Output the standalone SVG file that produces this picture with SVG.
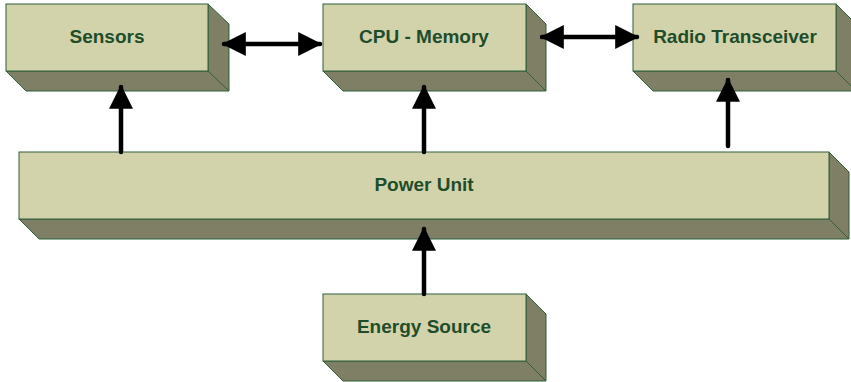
<svg xmlns="http://www.w3.org/2000/svg" width="851" height="382" viewBox="0 0 851 382">
<style>
.front{fill:#D3D3AB;stroke:#2E5E3A;stroke-width:1}
.side{fill:#7F7F66;stroke:#2E5E3A;stroke-width:1;stroke-linejoin:round}
.lbl{font-family:"Liberation Sans",Arial,sans-serif;font-weight:bold;font-size:19px;fill:#1E4D2B;text-anchor:middle}
.conn{stroke:#000;stroke-width:4.5;fill:none;stroke-linecap:round}
</style>
<defs>
<marker id="ah" markerUnits="userSpaceOnUse" markerWidth="24" markerHeight="24" viewBox="0 0 22 22" refX="20" refY="11" orient="auto-start-reverse">
<path d="M0,0 L22,11 L0,22 Z" fill="#000"/>
</marker>
</defs>
<rect width="851" height="382" fill="#fff"/>
<g id="sensors">
<polygon class="side" points="208,4 229,24 229,91 26,91 6,71 208,71"/>
<line x1="208" y1="71" x2="229" y2="91" stroke="#2E5E3A"/>
<rect class="front" x="6" y="4" width="202" height="67"/>
<text class="lbl" x="107" y="43">Sensors</text>
</g>
<g id="cpu">
<polygon class="side" points="526,4 546,24 546,91 343,91 323,71 526,71"/>
<line x1="526" y1="71" x2="546" y2="91" stroke="#2E5E3A"/>
<rect class="front" x="323" y="4" width="203" height="67"/>
<text class="lbl" x="424" y="43">CPU - Memory</text>
</g>
<g id="radio">
<polygon class="side" points="836,4 856,24 856,91 653,91 633,71 836,71"/>
<line x1="836" y1="71" x2="856" y2="91" stroke="#2E5E3A"/>
<rect class="front" x="633" y="4" width="203" height="67"/>
<text class="lbl" x="735" y="43">Radio Transceiver</text>
</g>
<g id="power">
<polygon class="side" points="829,152 849,172 849,239 39,239 19,219 829,219"/>
<line x1="829" y1="219" x2="849" y2="239" stroke="#2E5E3A"/>
<rect class="front" x="19" y="152" width="810" height="67"/>
<text class="lbl" x="424" y="191">Power Unit</text>
</g>
<g id="energy">
<polygon class="side" points="526,294 546,314 546,381 343,381 323,361 526,361"/>
<line x1="526" y1="361" x2="546" y2="381" stroke="#2E5E3A"/>
<rect class="front" x="323" y="294" width="203" height="67"/>
<text class="lbl" x="424" y="333">Energy Source</text>
</g>
<g id="connectors">
<line class="conn" x1="224" y1="44" x2="320" y2="44" marker-start="url(#ah)" marker-end="url(#ah)"/>
<line class="conn" x1="542" y1="37" x2="637" y2="37" marker-start="url(#ah)" marker-end="url(#ah)"/>
<line class="conn" x1="121" y1="152" x2="121" y2="87" marker-end="url(#ah)"/>
<line class="conn" x1="424" y1="152" x2="424" y2="87" marker-end="url(#ah)"/>
<line class="conn" x1="728" y1="146" x2="728" y2="80" marker-end="url(#ah)"/>
<line class="conn" x1="424" y1="294" x2="424" y2="229" marker-end="url(#ah)"/>
</g>
</svg>
